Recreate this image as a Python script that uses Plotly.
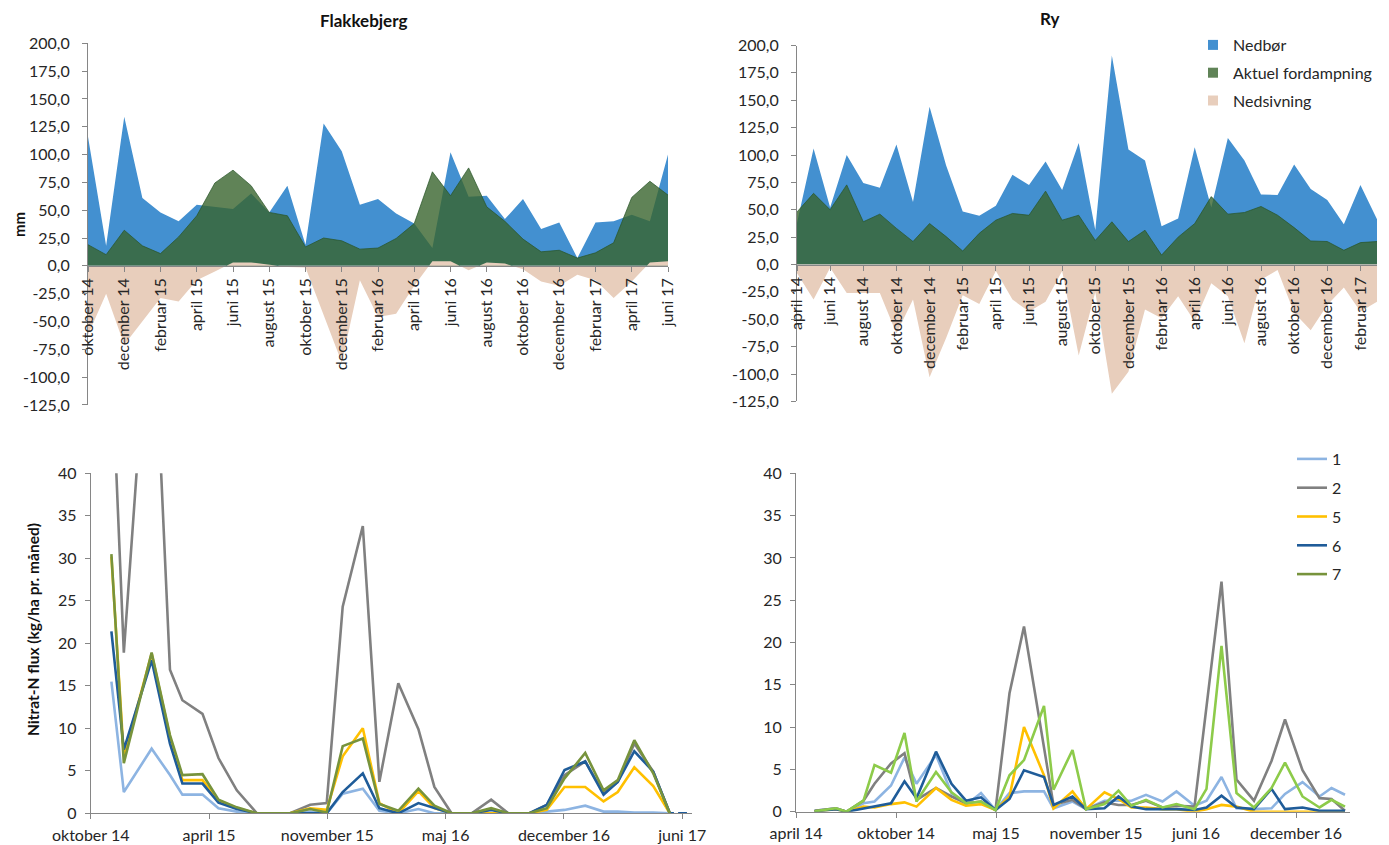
import plotly.graph_objects as go

# Reference canvas and the page offset (browser body margin)
W, H = 1389, 845
OFF = 8
FW, FH = W - OFF, H - OFF
FONT = "Lato"
TXT = "#262626"
AX = "#868686"

# ---------------- top charts: monthly water balance (mm) ----------------
flak_months = ["oktober 14", "november 14", "december 14", "januar 15", "februar 15", "marts 15",
               "april 15", "maj 15", "juni 15", "juli 15", "august 15", "september 15",
               "oktober 15", "november 15", "december 15", "januar 16", "februar 16", "marts 16",
               "april 16", "maj 16", "juni 16", "juli 16", "august 16", "september 16",
               "oktober 16", "november 16", "december 16", "januar 17", "februar 17", "marts 17",
               "april 17", "maj 17", "juni 17"]
flak_nedbor = [116, 18, 134, 61, 48, 40, 55, 53, 51, 65, 48, 72, 19, 128, 103, 55, 60, 47,
               38, 16, 102, 62, 63, 42, 60, 33, 39, 7, 39, 40, 46, 40, 100]
flak_fordamp = [19, 10, 32, 18, 11, 26, 45, 74.5, 86, 72, 48, 45, 17, 25, 22.5, 15, 16, 24.6,
                38, 84.5, 63, 88, 53, 40, 24, 12.6, 14, 7, 11.7, 20.7, 61.5, 76, 63.6]
flak_nedsiv = [-62, -25, -71, -50, -29, -32, -13, -5, 3, 3, 1, -1, -1.5, -45, -87, -13, -46, -43,
               -18, 4, 4, -4, 3, 2, -3, -14, -18, -8, -13, -29, -14, 3, 4]

ry_months = ["april 14", "maj 14", "juni 14", "juli 14", "august 14", "september 14",
             "oktober 14", "november 14", "december 14", "januar 15", "februar 15", "marts 15",
             "april 15", "maj 15", "juni 15", "juli 15", "august 15", "september 15",
             "oktober 15", "november 15", "december 15", "januar 16", "februar 16", "marts 16",
             "april 16", "maj 16", "juni 16", "juli 16", "august 16", "september 16",
             "oktober 16", "november 16", "december 16", "januar 17", "februar 17", "marts 17"]
ry_nedbor = [38, 106, 52, 100, 74.5, 70, 109.5, 57, 144, 90.5, 48.5, 44.5, 53.7, 82, 72.7, 94,
             68, 111, 31.6, 190.8, 105, 95, 35, 42, 107, 52, 115.6, 95, 64, 63.5, 91.4, 69, 59,
             36.8, 72.7, 41.4]
ry_fordamp = [48, 65, 50, 72.7, 39, 46, 33, 21, 37.4, 25.5, 12.3, 28.5, 40.5, 46.6, 45, 67,
              40.5, 45, 22, 39, 21, 31.3, 8.6, 25, 37.4, 62, 46, 47.5, 53, 45, 33.7, 21.5, 21,
              13, 20, 21]
ry_nedsiv = [-8, -32, -3, -26, -26, -26, -63, -32, -103, -67, -28, -36, -6, -32, -43, -34, -6,
             -83, -25, -118, -98, -41, -49, -29, -52, -17, -29, -72, -14, -5, -44, -60, -37, -21,
             -43, -34]

mm_ticks = [200, 175, 150, 125, 100, 75, 50, 25, 0, -25, -50, -75, -100, -125]
mm_ticktext = ["200,0", "175,0", "150,0", "125,0", "100,0", "75,0", "50,0", "25,0", "0,0",
               "-25,0", "-50,0", "-75,0", "-100,0", "-125,0"]

water_names = ["Nedbør", "Aktuel fordampning", "Nedsivning"]
C_BLUE = "rgb(67,144,208)"
C_GREEN = "rgba(56,100,45,0.80)"
C_GREEN_LEG = "rgb(96,131,87)"
C_BEIGE = "rgb(232,206,188)"

# ---------------- bottom charts: nitrate-N flux ----------------
flux_names = ["1", "2", "5", "6", "7"]
flux_colors_left = ["#8DB4E2", "#808080", "#FFC000", "#1F5C99", "#77933C"]
flux_colors_right = ["#8DB4E2", "#808080", "#FFC000", "#1F5C99", "#8DCB4A"]

left_dates = ["2014-11-05", "2014-11-26", "2015-01-12", "2015-02-12", "2015-03-05", "2015-04-08",
              "2015-05-05", "2015-06-05", "2015-07-09", "2015-08-06", "2015-09-03", "2015-10-07",
              "2015-11-04", "2015-12-01", "2016-01-04", "2016-02-01", "2016-03-04", "2016-04-07",
              "2016-05-04", "2016-06-02", "2016-07-06", "2016-08-08", "2016-09-06", "2016-10-11",
              "2016-11-10", "2016-12-10", "2017-01-14", "2017-02-14", "2017-03-10", "2017-04-07",
              "2017-05-09", "2017-06-06"]
left_1 = [15.5, 2.5, 7.6, 4.5, 2.2, 2.2, 0.6, 0.2, 0, 0, 0, 0.2, 0, 2.3, 2.9, 0.3, 0, 0.5, 0, 0,
          0, 0, 0, 0, 0.2, 0.4, 0.9, 0.2, 0.2, 0.1, 0.1, 0]
left_2 = [54, 18.9, 65, 16.9, 13.3, 11.7, 6.5, 2.7, 0, 0, 0, 1.0, 1.2, 24.3, 33.8, 3.7, 15.3, 9.9,
          3.1, 0, 0, 1.6, 0, 0, 1.0, 4.5, 6.1, 2.4, 3.7, 8.2, 4.9, 0]
left_5 = [30.2, 6.7, 18.8, 9.0, 3.9, 3.9, 1.5, 0.6, 0, 0, 0, 0.6, 0.4, 6.7, 10.0, 1.2, 0, 2.6,
          0.6, 0, 0, 0, 0, 0, 0.4, 3.1, 3.1, 1.4, 2.5, 5.4, 3.2, 0]
left_6 = [21.4, 7.5, 18.0, 8.2, 3.5, 3.5, 1.25, 0.5, 0, 0, 0, 0, 0, 2.5, 4.7, 0.6, 0, 1.2, 0.6,
          0, 0, 0.4, 0, 0, 1.0, 5.1, 6.1, 2.2, 3.7, 7.3, 4.9, 0]
left_7 = [30.5, 5.9, 18.9, 9.2, 4.5, 4.6, 1.6, 0.7, 0, 0, 0, 0.5, 0.1, 7.9, 8.8, 1.1, 0.3, 2.9,
          0.9, 0, 0, 0.6, 0, 0, 0.6, 4.1, 7.1, 2.7, 3.9, 8.6, 4.7, 0]
left_6_ext_dates = ["2017-06-13", "2017-06-17", "2017-06-20", "2017-07-05"]
left_6_ext = [0, None, 0, 0]

right_dates = ["2014-05-08", "2014-06-20", "2014-07-11", "2014-08-14", "2014-09-05", "2014-10-08",
               "2014-11-04", "2014-11-28", "2015-01-06", "2015-02-06", "2015-03-07", "2015-04-06",
               "2015-05-05", "2015-06-02", "2015-07-01", "2015-08-10", "2015-08-29", "2015-10-06",
               "2015-11-02", "2015-12-09", "2016-01-06", "2016-02-01", "2016-03-01", "2016-04-03",
               "2016-05-01", "2016-06-06", "2016-06-30", "2016-07-30", "2016-08-29", "2016-10-03",
               "2016-11-07", "2016-12-04", "2017-01-08", "2017-02-11", "2017-03-07", "2017-04-03"]
right_1 = [0.1, 0.4, 0, 1.0, 1.2, 3.1, 6.4, 3.3, 6.7, 2.2, 0.8, 2.2, 0.2, 2.2, 2.4, 2.4, 0.4, 1.2,
           0.3, 1.3, 1.3, 1.3, 2.0, 1.2, 2.4, 0.7, 1.3, 4.1, 0.4, 0.3, 0.4, 2.1, 3.5, 1.8, 2.8, 2.0]
right_2 = [0.1, 0.4, 0, 1.3, 3.3, 5.7, 6.9, 1.4, 2.8, 1.8, 1.0, 1.2, 0.2, 14.0, 21.9, 7.5, 0.8,
           1.4, 0.3, 1.1, 0.8, 0.8, 1.3, 0.5, 0.7, 0.6, 12.5, 27.2, 3.8, 1.3, 6.0, 10.9, 4.9, 1.6,
           1.5, 0.1]
right_5 = [0.05, 0.3, 0, 0.6, 0.5, 0.9, 1.1, 0.6, 2.8, 1.4, 0.7, 0.9, 0.2, 1.8, 10.0, 4.3, 0.4,
           2.4, 0.3, 2.3, 1.5, 0.5, 0.5, 0.3, 0.3, 0, 0.3, 0.8, 0.6, 0, 0, 0, 0, 0, 0, 0]
right_6 = [0.05, 0.3, 0, 0.4, 0.7, 1.0, 3.6, 1.6, 7.1, 3.3, 1.3, 1.7, 0.2, 1.5, 4.9, 4.1, 0.8,
           1.8, 0.3, 0.4, 1.8, 0.6, 0.3, 0.3, 0.3, 0.2, 0.5, 1.9, 0.5, 0.3, 2.7, 0.3, 0.5, 0.1,
           0.1, 0.1]
right_7 = [0.05, 0.4, 0, 1.3, 5.5, 4.6, 9.3, 1.2, 4.7, 2.3, 1.0, 1.2, 0.2, 4.3, 6.1, 12.5, 2.6,
           7.3, 0.3, 0.9, 2.5, 0.7, 1.4, 0.5, 0.9, 0.3, 2.7, 19.6, 2.2, 0.5, 2.8, 5.8, 1.8, 0.5,
           1.4, 0.6]

left_tickvals = ["2014-10-01", "2015-04-19", "2015-11-05", "2016-05-23", "2016-12-09", "2017-06-27"]
left_ticktext = ["oktober 14", "april 15", "november 15", "maj 16", "december 16", "juni 17"]
right_tickvals = ["2014-04-01", "2014-10-18", "2015-05-06", "2015-11-22", "2016-06-09", "2016-12-26"]
right_ticktext = ["april 14", "oktober 14", "maj 15", "november 15", "juni 16", "december 16"]
flux_ticks = [0, 5, 10, 15, 20, 25, 30, 35, 40]


def px_x(p):
    return (p - OFF) / FW


def px_y(p):
    return 1 - (p - OFF) / FH


fig = go.Figure()

# ---- top area charts ----
for xa, ya, months, ned, ford, siv in [("x", "y", flak_months, flak_nedbor, flak_fordamp, flak_nedsiv),
                                       ("x2", "y2", ry_months, ry_nedbor, ry_fordamp, ry_nedsiv)]:
    fig.add_trace(go.Scatter(x=months, y=ned, xaxis=xa, yaxis=ya, mode="lines", fill="tozeroy",
                             fillcolor=C_BLUE, line=dict(width=0, color=C_BLUE), showlegend=False,
                             hoverinfo="skip"))
    fig.add_trace(go.Scatter(x=months, y=ford, xaxis=xa, yaxis=ya, mode="lines", fill="tozeroy",
                             fillcolor=C_GREEN, line=dict(width=0.8, color="rgba(40,85,40,0.9)"),
                             showlegend=False, hoverinfo="skip"))
    fig.add_trace(go.Scatter(x=months, y=siv, xaxis=xa, yaxis=ya, mode="lines", fill="tozeroy",
                             fillcolor=C_BEIGE, line=dict(width=0, color=C_BEIGE), showlegend=False,
                             hoverinfo="skip"))

# legend entries (square symbols) for the water balance
for name, col in zip(water_names, [C_BLUE, C_GREEN_LEG, C_BEIGE]):
    fig.add_trace(go.Scatter(x=[None], y=[None], xaxis="x2", yaxis="y2", mode="markers",
                             marker=dict(symbol="square", size=10, color=col), name=name,
                             legend="legend", legendgroup=name, showlegend=True))

# ---- bottom line charts ----
left_series = [left_1, left_2, left_5, left_6, left_7]
right_series = [right_1, right_2, right_5, right_6, right_7]
for i, name in enumerate(flux_names):
    xs = list(left_dates)
    ys = list(left_series[i])
    if name == "6":
        xs += left_6_ext_dates
        ys += left_6_ext
    fig.add_trace(go.Scatter(x=xs, y=ys, xaxis="x3", yaxis="y3", mode="lines",
                             line=dict(color=flux_colors_left[i], width=2.6), name=name,
                             legend="legend2", legendgroup="f" + name, showlegend=True,
                             connectgaps=False))
for i, name in enumerate(flux_names):
    fig.add_trace(go.Scatter(x=right_dates, y=right_series[i], xaxis="x4", yaxis="y4", mode="lines",
                             line=dict(color=flux_colors_right[i], width=2.6), name=name,
                             showlegend=False))

tickfont = dict(family=FONT, size=16, color=TXT)

common_axis = dict(showgrid=False, zeroline=False, showline=True, linecolor=AX, linewidth=1,
                   ticks="outside", ticklen=5, tickcolor=AX, tickfont=tickfont, automargin=False)

fig.update_layout(
    template="none",
    width=FW, height=FH, autosize=False,
    margin=dict(l=0, r=0, t=0, b=0, pad=0, autoexpand=False),
    paper_bgcolor="white", plot_bgcolor="rgba(0,0,0,0)",
    font=dict(family=FONT, color=TXT),
    # top-left
    xaxis=dict(common_axis, domain=[px_x(88), px_x(668)], anchor="free", position=px_y(265.7),
               type="category", range=[0, len(flak_months) - 1], tickvals=flak_months[::2],
               tickangle=-90),
    yaxis=dict(common_axis, domain=[px_y(404.9), px_y(43.3)], anchor="x", range=[-125, 200],
               tickvals=mm_ticks, ticktext=mm_ticktext, ticklabelstandoff=9),
    # top-right
    xaxis2=dict(common_axis, domain=[px_x(797), px_x(1377)], anchor="free", position=px_y(264.5),
                type="category", range=[0, len(ry_months) - 1], tickvals=ry_months[::2],
                tickangle=-90),
    yaxis2=dict(common_axis, domain=[px_y(401.4), px_y(45.5)], anchor="x2", range=[-125, 200],
                tickvals=mm_ticks, ticktext=mm_ticktext, ticklabelstandoff=9),
    # bottom-left
    xaxis3=dict(common_axis, domain=[px_x(90.7), px_x(691.7)], anchor="y3", type="date",
                range=["2014-10-01", "2017-07-13"], tickvals=left_tickvals, ticktext=left_ticktext,
                tickangle=0, ticklabelstandoff=2),
    yaxis3=dict(common_axis, domain=[px_y(813.3), px_y(473.3)], anchor="x3", range=[0, 40],
                tickvals=flux_ticks, ticklabelstandoff=5),
    # bottom-right
    xaxis4=dict(common_axis, domain=[px_x(796), px_x(1350)], anchor="y4", type="date",
                range=["2014-04-01", "2017-04-13"], tickvals=right_tickvals, ticktext=right_ticktext,
                tickangle=0, ticklabelstandoff=2),
    yaxis4=dict(common_axis, domain=[px_y(811.7), px_y(473.3)], anchor="x4", range=[0, 40],
                tickvals=flux_ticks, ticklabelstandoff=5),
    legend=dict(x=px_x(1193), y=px_y(28), xanchor="left", yanchor="top",
                font=dict(family=FONT, size=16, color=TXT), bgcolor="rgba(0,0,0,0)",
                traceorder="grouped", tracegroupgap=4),
    legend2=dict(x=px_x(1292), y=px_y(442), xanchor="left", yanchor="top",
                 font=dict(family=FONT, size=16, color=TXT), bgcolor="rgba(0,0,0,0)",
                 traceorder="grouped", tracegroupgap=5),
    annotations=[
        dict(text="<b>Flakkebjerg</b>", x=px_x(363), y=px_y(20), xref="paper", yref="paper",
             xanchor="center", yanchor="middle", showarrow=False,
             font=dict(family=FONT, size=17, color="#111")),
        dict(text="<b>Ry</b>", x=px_x(1050), y=px_y(19), xref="paper", yref="paper",
             xanchor="center", yanchor="middle", showarrow=False,
             font=dict(family=FONT, size=17, color="#111")),
        dict(text="<b>mm</b>", x=px_x(19), y=px_y(225), xref="paper", yref="paper",
             xanchor="center", yanchor="middle", showarrow=False, textangle=-90,
             font=dict(family=FONT, size=15, color="#111")),
        dict(text="<b>Nitrat-N flux (kg/ha pr. måned)</b>", x=px_x(33), y=px_y(630),
             xref="paper", yref="paper", xanchor="center", yanchor="middle", showarrow=False,
             textangle=-90, font=dict(family=FONT, size=15.5, color="#111")),
    ],
)

fig.write_html("out.html")
